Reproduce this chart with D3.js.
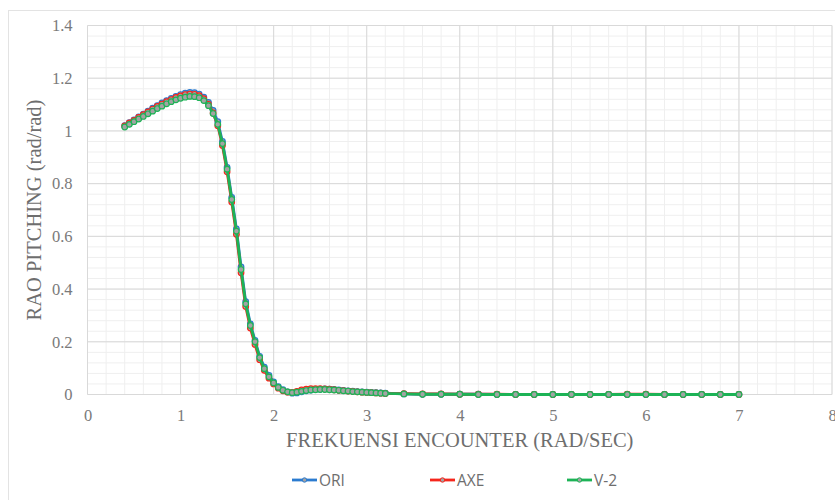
<!DOCTYPE html>
<html>
<head>
<meta charset="utf-8">
<script src="https://cdn.jsdelivr.net/npm/d3@7"></script>
<style>
  html, body { margin: 0; padding: 0; background: #fff; }
  svg { display: block; }
</style>
</head>
<body>
<svg id="chart" width="835" height="500"></svg>
<script>
// Encounter frequency (rad/sec)
const freq = [
  0.40, 0.45, 0.50, 0.55, 0.60, 0.65, 0.70, 0.75, 0.80, 0.85,
  0.90, 0.95, 1.00, 1.05, 1.10, 1.15, 1.20, 1.25, 1.30, 1.35,
  1.40, 1.45, 1.50, 1.55, 1.60, 1.65, 1.70, 1.75, 1.80, 1.85,
  1.90, 1.95, 2.00, 2.05, 2.10, 2.15, 2.20, 2.25, 2.30, 2.35,
  2.40, 2.45, 2.50, 2.55, 2.60, 2.65, 2.70, 2.75, 2.80, 2.85,
  2.90, 2.95, 3.00, 3.05, 3.10, 3.15, 3.20,
  3.40, 3.60, 3.80, 4.00, 4.20, 4.40, 4.60, 4.80, 5.00, 5.20,
  5.40, 5.60, 5.80, 6.00, 6.20, 6.40, 6.60, 6.80, 7.00
];

// RAO pitching (rad/rad) per hull variant
const ori = [
  1.020, 1.031, 1.042, 1.053, 1.064, 1.075, 1.086, 1.096, 1.106, 1.115,
  1.123, 1.131, 1.138, 1.143, 1.146, 1.145, 1.140, 1.128, 1.108, 1.078,
  1.035, 0.960, 0.862, 0.748, 0.628, 0.484, 0.352, 0.268, 0.205, 0.145,
  0.104, 0.072, 0.048, 0.030, 0.018, 0.010, 0.005, 0.006, 0.010, 0.014,
  0.017, 0.019, 0.020, 0.021, 0.020, 0.019, 0.017, 0.016, 0.014, 0.013,
  0.011, 0.010, 0.009, 0.008, 0.007, 0.006, 0.005,
  0.002, 0.001, 0.001, 0.001, 0.001, 0.000, 0.000, 0.000, 0.000, 0.000,
  0.000, 0.000, 0.000, 0.000, 0.000, 0.000, 0.000, 0.000, 0.000
];
const axe = [
  1.019, 1.030, 1.040, 1.051, 1.062, 1.072, 1.083, 1.093, 1.102, 1.111,
  1.119, 1.127, 1.133, 1.138, 1.140, 1.139, 1.134, 1.122, 1.101, 1.068,
  1.020, 0.945, 0.845, 0.730, 0.608, 0.462, 0.334, 0.252, 0.190, 0.132,
  0.092, 0.062, 0.040, 0.024, 0.014, 0.009, 0.008, 0.012, 0.017, 0.020,
  0.022, 0.022, 0.022, 0.021, 0.020, 0.018, 0.016, 0.015, 0.013, 0.012,
  0.010, 0.009, 0.008, 0.007, 0.006, 0.005, 0.004,
  0.003, 0.002, 0.002, 0.001, 0.001, 0.001, 0.000, 0.000, 0.000, 0.000,
  0.000, 0.000, 0.001, 0.001, 0.000, 0.000, 0.000, 0.000, 0.000
];
const v2 = [
  1.015, 1.025, 1.035, 1.045, 1.055, 1.065, 1.075, 1.085, 1.094, 1.103,
  1.111, 1.118, 1.124, 1.128, 1.131, 1.130, 1.126, 1.115, 1.096, 1.066,
  1.025, 0.952, 0.855, 0.740, 0.620, 0.474, 0.344, 0.262, 0.200, 0.140,
  0.098, 0.067, 0.044, 0.027, 0.016, 0.010, 0.007, 0.009, 0.012, 0.015,
  0.017, 0.018, 0.019, 0.019, 0.018, 0.017, 0.016, 0.014, 0.013, 0.011,
  0.010, 0.009, 0.008, 0.007, 0.006, 0.005, 0.004,
  0.002, 0.001, 0.001, 0.001, 0.000, 0.000, 0.000, 0.000, 0.000, 0.000,
  0.000, 0.000, 0.000, 0.000, 0.000, 0.000, 0.000, 0.000, 0.000
];

const seriesNames = ["ORI", "AXE", "V-2"];
const seriesColors = ["#2b7bd0", "#f5261c", "#1db356"];
const xTicks = [0, 1, 2, 3, 4, 5, 6, 7, 8];
const yTicks = [0, 0.2, 0.4, 0.6, 0.8, 1, 1.2, 1.4];

const series = [ori, axe, v2].map((vals, i) => ({
  name: seriesNames[i],
  color: seriesColors[i],
  points: freq.map((f, j) => ({ x: f, y: vals[j] }))
}));

const svg = d3.select("#chart");
const plot = { left: 87.5, right: 832, top: 25.5, bottom: 394.5 };

// Chart frame
svg.append("rect")
  .attr("x", 8.5).attr("y", 10.5)
  .attr("width", 840).attr("height", 500)
  .attr("fill", "#fff").attr("stroke", "#e3e3e3");

const x = d3.scaleLinear().domain([0, 8]).range([plot.left, plot.right]);
const y = d3.scaleLinear().domain([0, 1.4]).range([plot.bottom, plot.top]);

// Minor grid
const g = svg.append("g");
const minorX = d3.range(0, 8.0001, 0.2);
const minorY = d3.range(0, 1.4001, 0.04);
g.selectAll(".mx").data(minorX).join("line")
  .attr("x1", d => x(d)).attr("x2", d => x(d))
  .attr("y1", plot.top).attr("y2", plot.bottom)
  .attr("stroke", "#efefef").attr("stroke-width", 1);
g.selectAll(".my").data(minorY).join("line")
  .attr("x1", plot.left).attr("x2", plot.right)
  .attr("y1", d => y(d)).attr("y2", d => y(d))
  .attr("stroke", "#efefef").attr("stroke-width", 1);

// Major grid
g.selectAll(".gx").data(xTicks).join("line")
  .attr("x1", d => x(d)).attr("x2", d => x(d))
  .attr("y1", plot.top).attr("y2", plot.bottom)
  .attr("stroke", "#d9d9d9").attr("stroke-width", 1);
g.selectAll(".gy").data(yTicks).join("line")
  .attr("x1", plot.left).attr("x2", plot.right)
  .attr("y1", d => y(d)).attr("y2", d => y(d))
  .attr("stroke", "#d9d9d9").attr("stroke-width", 1);

// Axes (labels only)
const tickFont = "'Liberation Serif', 'Times New Roman', serif";
const xAxis = svg.append("g")
  .attr("transform", `translate(0,${plot.bottom})`)
  .call(d3.axisBottom(x).tickValues(xTicks).tickSize(0).tickPadding(15).tickFormat(d3.format("d")));
const yAxis = svg.append("g")
  .attr("transform", `translate(${plot.left},0)`)
  .call(d3.axisLeft(y).tickValues(yTicks).tickSize(0).tickPadding(15).tickFormat(d => d === 0 || d === 1 ? String(d) : d3.format(".1f")(d)));
[xAxis, yAxis].forEach(a => {
  a.select(".domain").remove();
  a.selectAll("text")
    .attr("font-family", tickFont)
    .attr("font-size", 16.5)
    .attr("fill", "#7a7a7a");
});

// Series lines and markers
const line = d3.line().x(d => x(d.x)).y(d => y(d.y));
series.forEach(s => {
  svg.append("path")
    .datum(s.points)
    .attr("d", line)
    .attr("fill", "none")
    .attr("stroke", s.color)
    .attr("stroke-width", 2.8)
    .attr("stroke-linejoin", "round");
  svg.append("g").selectAll("circle").data(s.points).join("circle")
    .attr("cx", d => x(d.x)).attr("cy", d => y(d.y))
    .attr("r", 2.8)
    .attr("fill", "#a3a3a3")
    .attr("stroke", s.color)
    .attr("stroke-width", 1.2);
});

// Axis titles
svg.append("text")
  .attr("x", (plot.left + plot.right) / 2).attr("y", 447)
  .attr("text-anchor", "middle")
  .attr("font-family", tickFont).attr("font-size", 20.5)
  .attr("fill", "#6e6e6e")
  .text("FREKUENSI ENCOUNTER (RAD/SEC)");
svg.append("text")
  .attr("transform", `translate(41,${(plot.top + plot.bottom) / 2}) rotate(-90)`)
  .attr("text-anchor", "middle")
  .attr("font-family", tickFont).attr("font-size", 20.5)
  .attr("fill", "#6e6e6e")
  .text("RAO PITCHING (rad/rad)");

// Legend
const legendX = [292, 430, 567];
const legend = svg.append("g").selectAll("g").data(series).join("g")
  .attr("transform", (d, i) => `translate(${legendX[i]},480)`);
legend.append("line")
  .attr("x1", 0).attr("x2", 25).attr("y1", 0).attr("y2", 0)
  .attr("stroke", d => d.color).attr("stroke-width", 2.8);
legend.append("circle")
  .attr("cx", 12.5).attr("cy", 0).attr("r", 2.2)
  .attr("fill", "#a3a3a3").attr("stroke", d => d.color).attr("stroke-width", 1);
legend.append("text")
  .attr("x", 27).attr("y", 5.5)
  .attr("font-family", "'Open Sans', 'Liberation Sans', sans-serif")
  .attr("font-size", 15.5)
  .attr("fill", "#6e6e6e")
  .text(d => d.name);
</script>
</body>
</html>
